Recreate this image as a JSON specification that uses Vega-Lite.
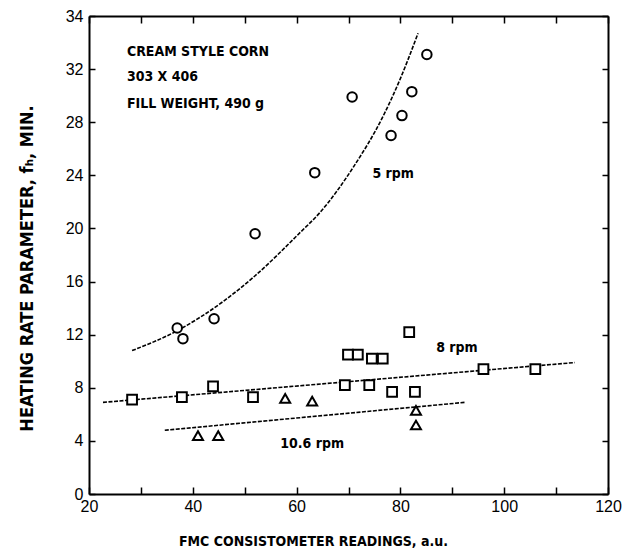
{
  "$schema": "https://vega.github.io/schema/vega-lite/v6.json",
  "width": 519,
  "height": 478,
  "autosize": {"type": "none"},
  "padding": {"left": 89, "top": 16, "right": 23, "bottom": 63},
  "background": "white",
  "config": {
    "view": {"stroke": null},
    "axis": {
      "domainColor": "black",
      "domainWidth": 2,
      "tickColor": "black",
      "tickWidth": 1.5,
      "grid": false,
      "labelFlush": false,
      "labelFont": "Liberation Sans",
      "labelFontSize": 16,
      "labelColor": "black",
      "titleFont": "DejaVu Sans Condensed",
      "titleFontWeight": "bold",
      "titleColor": "black"
    }
  },
  "datasets": {
    "points": [
      {"series": "5 rpm", "x": 37.0, "y": 12.5},
      {"series": "5 rpm", "x": 38.1, "y": 11.7},
      {"series": "5 rpm", "x": 44.1, "y": 13.2},
      {"series": "5 rpm", "x": 52.0, "y": 19.6},
      {"series": "5 rpm", "x": 63.5, "y": 24.2},
      {"series": "5 rpm", "x": 70.7, "y": 29.9},
      {"series": "5 rpm", "x": 78.2, "y": 27.0},
      {"series": "5 rpm", "x": 80.3, "y": 28.5},
      {"series": "5 rpm", "x": 82.2, "y": 30.3},
      {"series": "5 rpm", "x": 85.1, "y": 33.1},
      {"series": "8 rpm", "x": 28.3, "y": 7.1},
      {"series": "8 rpm", "x": 37.9, "y": 7.3},
      {"series": "8 rpm", "x": 43.9, "y": 8.1},
      {"series": "8 rpm", "x": 51.6, "y": 7.3},
      {"series": "8 rpm", "x": 69.3, "y": 8.2},
      {"series": "8 rpm", "x": 74.0, "y": 8.2},
      {"series": "8 rpm", "x": 78.4, "y": 7.7},
      {"series": "8 rpm", "x": 82.8, "y": 7.7},
      {"series": "8 rpm", "x": 69.9, "y": 10.5},
      {"series": "8 rpm", "x": 71.8, "y": 10.5},
      {"series": "8 rpm", "x": 74.5, "y": 10.2},
      {"series": "8 rpm", "x": 76.6, "y": 10.2},
      {"series": "8 rpm", "x": 81.7, "y": 12.2},
      {"series": "8 rpm", "x": 96.0, "y": 9.4},
      {"series": "8 rpm", "x": 106.0, "y": 9.4},
      {"series": "10.6 rpm", "x": 41.0, "y": 4.4},
      {"series": "10.6 rpm", "x": 44.9, "y": 4.4},
      {"series": "10.6 rpm", "x": 57.8, "y": 7.2},
      {"series": "10.6 rpm", "x": 63.0, "y": 7.0},
      {"series": "10.6 rpm", "x": 83.0, "y": 6.3},
      {"series": "10.6 rpm", "x": 83.0, "y": 5.2}
    ],
    "curves": [
      {"series": "5 rpm", "x": 28.3, "y": 10.8},
      {"series": "5 rpm", "x": 37.0, "y": 12.3},
      {"series": "5 rpm", "x": 46.2, "y": 14.6},
      {"series": "5 rpm", "x": 51.6, "y": 16.3},
      {"series": "5 rpm", "x": 60.7, "y": 19.7},
      {"series": "5 rpm", "x": 64.5, "y": 21.2},
      {"series": "5 rpm", "x": 70.9, "y": 24.6},
      {"series": "5 rpm", "x": 76.6, "y": 28.4},
      {"series": "5 rpm", "x": 79.9, "y": 31.2},
      {"series": "5 rpm", "x": 83.4, "y": 34.7},
      {"series": "8 rpm", "x": 22.7, "y": 6.9},
      {"series": "8 rpm", "x": 113.6, "y": 9.9},
      {"series": "10.6 rpm", "x": 34.6, "y": 4.8},
      {"series": "10.6 rpm", "x": 92.4, "y": 6.9}
    ],
    "labels": [
      {"text": "5 rpm", "x": 78.6, "y": 24.1},
      {"text": "8 rpm", "x": 90.9, "y": 11.0},
      {"text": "10.6 rpm", "x": 63.0, "y": 3.8}
    ],
    "notes": [
      {"text": "CREAM STYLE CORN", "x": 27.3, "y": 33.3},
      {"text": "303 X 406", "x": 27.3, "y": 31.4},
      {"text": "FILL WEIGHT, 490 g", "x": 27.3, "y": 29.4}
    ]
  },
  "layer": [
    {
      "data": {"name": "points"},
      "mark": {"type": "point", "opacity": 0},
      "encoding": {
        "x": {
          "field": "x", "type": "quantitative",
          "scale": {"domain": [20, 120], "nice": false, "zero": false},
          "axis": {
            "orient": "bottom",
            "values": [20, 30, 40, 50, 60, 70, 80, 90, 100, 110, 120],
            "labelExpr": "datum.value % 20 == 0 ? datum.label : ''",
            "tickSize": -7,
            "labelPadding": 11,
            "title": "FMC CONSISTOMETER READINGS, a.u.",
            "titleFontSize": 14,
            "titleX": 224,
            "titlePadding": 20
          }
        },
        "y": {
          "field": "y", "type": "quantitative",
          "scale": {"domain": [0, 36], "nice": false},
          "axis": {
            "orient": "left",
            "values": [0, 4, 8, 12, 16, 20, 24, 28, 32, 36],
            "labelExpr": "datum.value == 36 ? '34' : datum.label",
            "tickSize": -6,
            "labelPadding": 12,
            "title": "HEATING RATE PARAMETER, fₕ, MIN.",
            "titleFontSize": 18,
            "titlePadding": 29,
            "titleY": 252
          }
        }
      }
    },
    {
      "data": {"name": "points"},
      "mark": {"type": "point", "opacity": 0},
      "encoding": {
        "x": {
          "field": "x", "type": "quantitative",
          "axis": {
            "orient": "top",
            "values": [20, 30, 40, 50, 60, 70, 80, 90, 100, 110, 120],
            "labels": false, "tickSize": -7, "title": null
          }
        },
        "y": {
          "field": "y", "type": "quantitative",
          "axis": {
            "orient": "right",
            "values": [0, 4, 8, 12, 16, 20, 24, 28, 32, 36],
            "labels": false, "tickSize": -6, "title": null
          }
        }
      }
    },
    {
      "data": {"name": "curves"},
      "mark": {"type": "line", "color": "black", "strokeWidth": 1.6, "strokeDash": [4, 1.5], "interpolate": "monotone"},
      "encoding": {
        "x": {"field": "x", "type": "quantitative", "axis": null},
        "y": {"field": "y", "type": "quantitative", "axis": null},
        "detail": {"field": "series"}
      }
    },
    {
      "data": {"name": "points"},
      "mark": {"type": "point", "filled": false, "fill": "white", "fillOpacity": 1, "stroke": "black", "strokeWidth": 2, "opacity": 1},
      "encoding": {
        "x": {"field": "x", "type": "quantitative", "axis": null},
        "y": {"field": "y", "type": "quantitative", "axis": null},
        "shape": {
          "field": "series", "type": "nominal",
          "scale": {"domain": ["5 rpm", "8 rpm", "10.6 rpm"], "range": ["circle", "square", "triangle-up"]},
          "legend": null
        },
        "size": {
          "field": "series", "type": "nominal",
          "scale": {"domain": ["5 rpm", "8 rpm", "10.6 rpm"], "range": [90, 100, 70]},
          "legend": null
        }
      }
    },
    {
      "data": {"name": "labels"},
      "mark": {"type": "text", "font": "DejaVu Sans Condensed", "fontWeight": "bold", "fontSize": 14, "align": "center", "baseline": "middle", "color": "black"},
      "encoding": {
        "x": {"field": "x", "type": "quantitative", "axis": null},
        "y": {"field": "y", "type": "quantitative", "axis": null},
        "text": {"field": "text"}
      }
    },
    {
      "data": {"name": "notes"},
      "mark": {"type": "text", "font": "DejaVu Sans Condensed", "fontWeight": "bold", "fontSize": 14, "align": "left", "baseline": "middle", "color": "black"},
      "encoding": {
        "x": {"field": "x", "type": "quantitative", "axis": null},
        "y": {"field": "y", "type": "quantitative", "axis": null},
        "text": {"field": "text"}
      }
    }
  ],
  "resolve": {"axis": {"x": "independent", "y": "independent"}}
}
